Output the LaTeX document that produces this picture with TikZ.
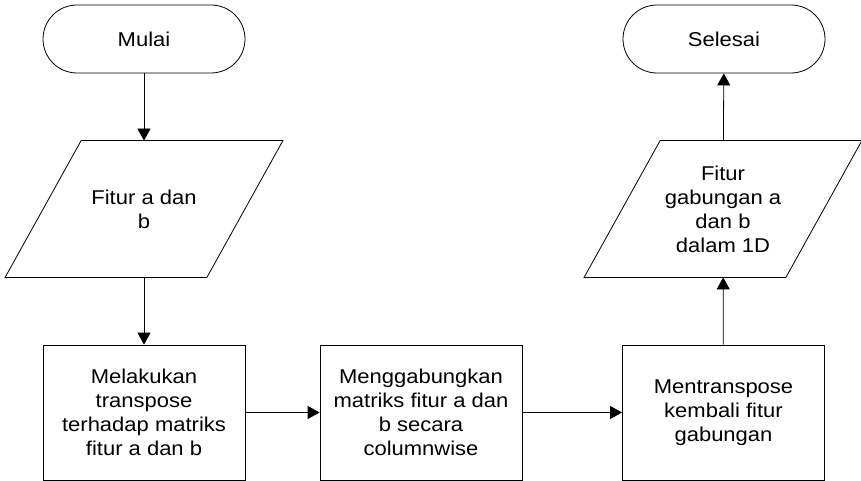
\documentclass[tikz,border=0pt]{standalone}
\usepackage{fontspec}
\setmainfont{Liberation Sans}[FakeStretch=1.1]
\usetikzlibrary{arrows.meta,calc}

\begin{document}
\begin{tikzpicture}[x=1pt,y=-1pt,line width=0.8pt,
  every node/.style={font=\fontsize{20}{24}\selectfont, align=center, inner sep=0pt},
  term/.style={draw, rounded corners=34pt, minimum width=202pt, minimum height=68pt},
  proc/.style={draw, minimum width=202pt, minimum height=135pt},
  iobox/.style={minimum width=277pt, minimum height=136pt},
  flow/.style={-{Triangle[length=12pt,width=13pt]}}]
  \useasboundingbox (0,0) rectangle (861,481);

  % terminals
  \node[term] (start) at (144,39) {Mulai};
  \node[term] (stop)  at (724,39) {Selesai};

  % input / output parallelograms
  \node[iobox] (in)  at (144,209) {Fitur a dan\\b};
  \draw ($(in.north west)+(76,0)$) -- (in.north east)
        -- ($(in.south east)+(-76,0)$) -- (in.south west) -- cycle;
  \node[iobox] (out) at (723,209) {Fitur\\gabungan a\\dan b\\dalam 1D};
  \draw ($(out.north west)+(76,0)$) -- (out.north east)
        -- ($(out.south east)+(-76,0)$) -- (out.south west) -- cycle;

  % processing steps
  \node[proc] (p1) at (144,412.5) {Melakukan\\transpose\\terhadap matriks\\fitur a dan b};
  \node[proc] (p2) at (421,412.5) {Menggabungkan\\matriks fitur a dan\\b secara\\columnwise};
  \node[proc] (p3) at (723.5,412.5) {Mentranspose\\kembali fitur\\gabungan};

  % connectors
  \draw[flow] (start) -- (in);
  \draw[flow] (in) -- (p1);
  \draw[flow] (p1) -- (p2);
  \draw[flow] (p2) -- (p3);
  \draw[flow] (p3) -- (out);
  \draw[flow] (out) -- (stop);
\end{tikzpicture}
\end{document}
